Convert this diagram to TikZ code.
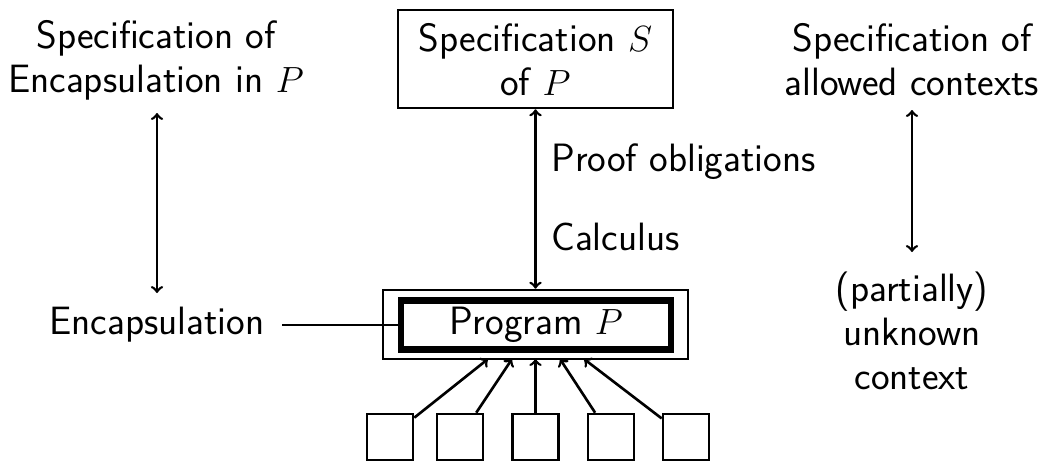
\documentclass[tikz,border=0pt]{standalone}
\begin{document}
\begin{tikzpicture}[x=0.02cm,y=-0.02cm,line width=1.5pt,
  txt/.style={font=\fontsize{22.5}{25}\selectfont\sffamily,align=center,inner sep=0pt},
  box/.style={draw,line width=1.5pt,inner sep=0pt},
  small/.style={draw,line width=1.5pt,minimum size=0.92cm,inner sep=0pt},
  arr/.style={->,>=to,line width=1.5pt},
  darr/.style={<->,>=to,line width=1.5pt}]
\useasboundingbox (0,0) rectangle (1046,461);
% top middle spec box
\node[box,minimum width=5.5cm,minimum height=1.96cm] (spec) at (535.5,59) {};
\node[txt] (spect) at (535.5,60) {Specification $S$\\of $P$};
% program boxes
\node[box,minimum width=6.1cm,minimum height=1.38cm] (outer) at (535.5,324.5) {};
\node[draw,line width=3.8pt,minimum width=5.4cm,minimum height=0.98cm,inner sep=0pt] (inner) at (536,325) {};
\node[txt] (prog) at (536,325) {Program $P$};
% proof arrow
\draw[darr] (spec.south) -- (outer.north);
\node[txt,anchor=west] (proof) at (550,162) {Proof obligations};
\node[txt,anchor=west] (calc) at (550,237) {Calculus};
% left column
\node[txt] (lspec) at (156,60) {Specification of\\Encapsulation in $P$};
\node[txt] (encap) at (157,325) {Encapsulation};
\coordinate (la) at (157,113);
\coordinate (lb) at (157,293);
\draw[darr] (la) -- (lb);
\draw (encap.east) ++(9.5pt,0) coordinate (ls) -- (inner.west |- ls);
% right column
\node[txt] (rspec) at (912,60) {Specification of\\allowed contexts};
\node[txt] (ctx) at (912,331) {(partially)\\unknown\\context};
\coordinate (ra) at (912,110);
\coordinate (rb) at (912,252);
\draw[darr] (ra) -- (rb);
% small boxes
\foreach \i/\x/\tx in {1/390/488,2/460/512,3/535.5/535.5,4/611/560,5/686/584}{
  \node[small] (s\i) at (\x,437) {};
  \coordinate (t\i) at (\tx,359);
  \draw[arr] (s\i) -- (t\i);
}
\end{tikzpicture}
\end{document}
